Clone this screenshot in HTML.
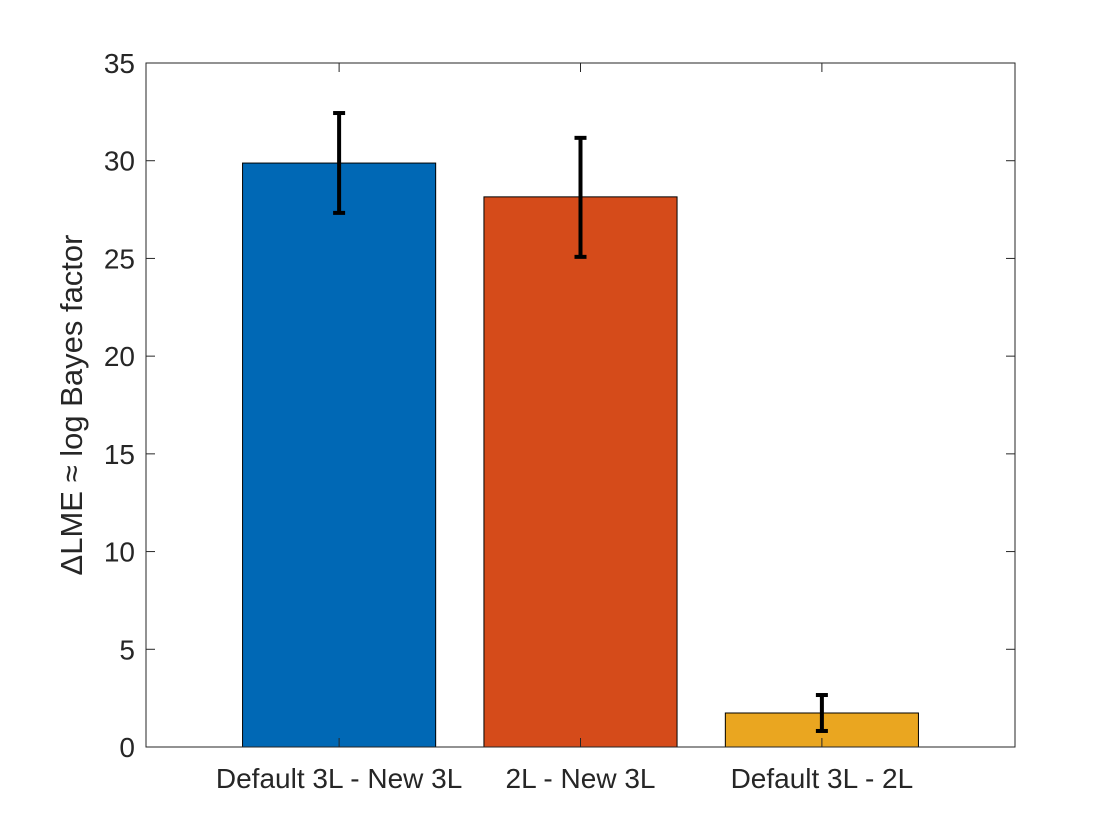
<!DOCTYPE html>
<html><head><meta charset="utf-8">
<style>
html,body{margin:0;padding:0;background:#fff;}
svg{display:block;font-family:"Liberation Sans",sans-serif;}
</style></head>
<body>
<svg id="chart" width="1120" height="840" viewBox="0 0 1120 840"></svg>
<script>
const categories = ["Default 3L - New 3L", "2L - New 3L", "Default 3L - 2L"];
const values = [29.88, 28.15, 1.74];
const errLow = [27.33, 25.08, 0.82];
const errHigh = [32.44, 31.17, 2.66];
const yTicks = [0, 5, 10, 15, 20, 25, 30, 35];
const colors = ["#0068B5", "#D54B1A", "#EAA620"];

const L = 146, R = 1015, T = 63, B = 747;
const xMin = 0.2, xMax = 3.8, yMin = 0, yMax = 35;
const xs = v => L + (v - xMin) / (xMax - xMin) * (R - L);
const ys = v => B - (v - yMin) / (yMax - yMin) * (B - T);
const NS = "http://www.w3.org/2000/svg";
const svg = document.getElementById("chart");
function mk(tag, attrs, parent) {
  const e = document.createElementNS(NS, tag);
  for (const k in attrs) e.setAttribute(k, attrs[k]);
  (parent || svg).appendChild(e);
  return e;
}

categories.forEach((c, i) => {
  const x0 = xs(i + 1 - 0.4), x1 = xs(i + 1 + 0.4);
  const r = mk("rect", {x: x0, y: ys(values[i]), width: x1 - x0, height: ys(0) - ys(values[i]), fill: colors[i], stroke: "#000", "stroke-width": 1});
  
  
});

categories.forEach((c, i) => {
  const g = mk("g", {stroke: "#000", "stroke-width": 4, fill: "none"});
  
  
  const cx = xs(i + 1);
  mk("line", {x1: cx, x2: cx, y1: ys(errLow[i]), y2: ys(errHigh[i])}, g);
  mk("line", {x1: cx - 6, x2: cx + 6, y1: ys(errLow[i]), y2: ys(errLow[i])}, g);
  mk("line", {x1: cx - 6, x2: cx + 6, y1: ys(errHigh[i]), y2: ys(errHigh[i])}, g);
});

const box = mk("rect", {x: L, y: T, width: R - L, height: B - T, fill: "none", stroke: "#262626", "stroke-width": 1});



yTicks.forEach(t => {
  const y = ys(t);
  mk("line", {x1: L, x2: L + 9, y1: y, y2: y, stroke: "#262626"});
  mk("line", {x1: R, x2: R - 9, y1: y, y2: y, stroke: "#262626"});
  const tx = mk("text", {x: L - 11, y: y + 10, "text-anchor": "end", "font-size": 28, fill: "#262626"});
  tx.textContent = t;
  
  
});

categories.forEach((c, i) => {
  const x = xs(i + 1);
  mk("line", {x1: x, x2: x, y1: B, y2: B - 9, stroke: "#262626"});
  mk("line", {x1: x, x2: x, y1: T, y2: T + 9, stroke: "#262626"});
  const tx = mk("text", {x: x, y: B + 41, "text-anchor": "middle", "font-size": 28, fill: "#262626"});
  tx.textContent = c;
  
  
});

const yl = mk("text", {x: 0, y: 0, transform: "translate(82," + ((T + B) / 2) + ") rotate(-90)", "text-anchor": "middle", "font-size": 31, fill: "#262626"});
yl.textContent = "\u0394LME \u2248 log Bayes factor";


</script>
</body></html>
